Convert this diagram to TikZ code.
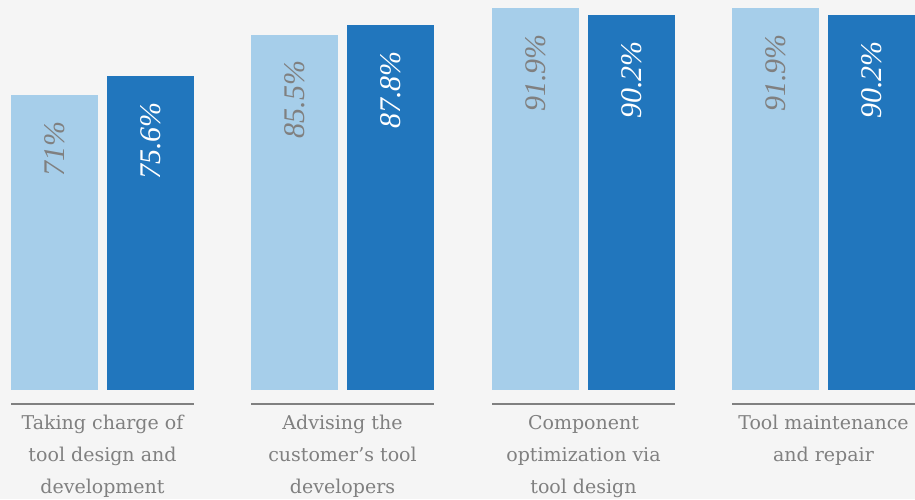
\documentclass[tikz,border=0pt]{standalone}
\usepackage{fontspec}
\setmainfont{DejaVu Serif}
\newfontfamily\valuefont{Liberation Serif}
\definecolor{bg}{HTML}{F5F5F5}
\definecolor{barlight}{HTML}{A6CEEA}
\definecolor{bardark}{HTML}{2176BD}
\definecolor{textgray}{HTML}{808080}

\begin{document}
\begin{tikzpicture}[
                x=1pt,y=1pt,
                value/.style={rotate=90,anchor=east,inner sep=0pt,font=\valuefont\itshape\fontsize{30}{30}\selectfont},
                category/.style={anchor=north,align=center,inner sep=0pt,text=textgray,font=\fontsize{19}{32}\selectfont}
            ]
                \fill[bg] (0,0) rectangle (915,499);
                \useasboundingbox (0,0) rectangle (915,499);
                \foreach \i/\x/\a/\b/\txt in {
                    1/11/71/75.6/{Taking charge of\\tool design and\\development},
                    2/251/85.5/87.8/{Advising the\\customer's tool\\developers},
                    3/492/91.9/90.2/{Component\\optimization via\\tool design},
                    4/732/91.9/90.2/{Tool maintenance\\and repair}} {
                    \pgfmathsetmacro{\ha}{109+4.155*\a}
                    \pgfmathsetmacro{\hb}{109+4.155*\b}
                    \fill[barlight] (\x,109) rectangle (\x+87,\ha);
                    \fill[bardark] (\x+96,109) rectangle (\x+183,\hb);
                    \node[value,text=textgray] (light-\i) at (\x+43.5,\ha-26) {\a\%};
                    \node[value,text=white] (dark-\i) at (\x+139.5,\hb-26) {\b\%};
                    \draw[textgray,line width=2pt] (\x,95) -- (\x+183,95);
                    \node[category] (cat-\i) at (\x+91.5,84) {\txt};
                }
            \end{tikzpicture}
\end{document}
